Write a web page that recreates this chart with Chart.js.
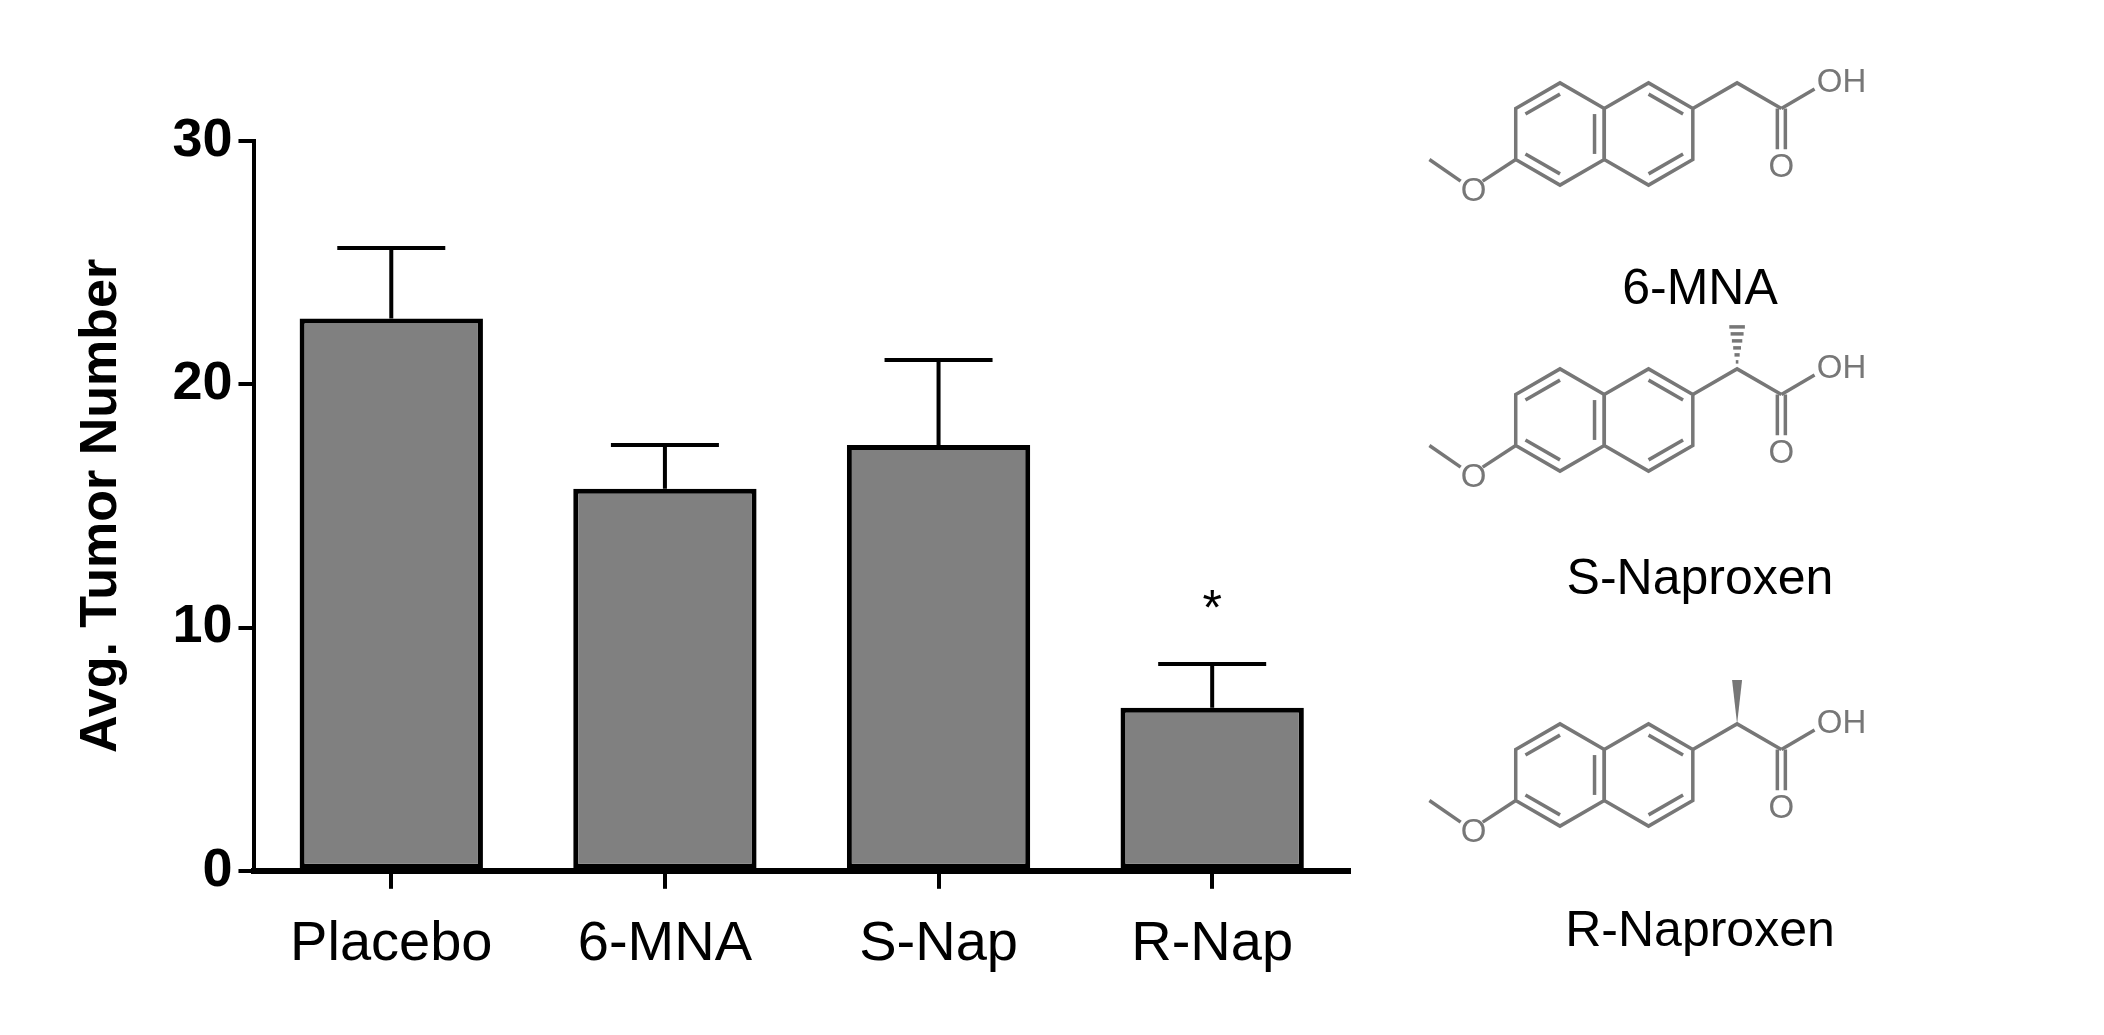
<!DOCTYPE html>
<html>
<head>
<meta charset="utf-8">
<script src="https://cdn.jsdelivr.net/npm/chart.js@4.4.0/dist/chart.umd.min.js"></script>
<style>
  body { margin: 0; background: #fff; width: 2104px; height: 1035px; position: relative; overflow: hidden; }
  #chartBox { position: absolute; left: 0; top: 0; width: 1420px; height: 1035px; }
  #mol { position: absolute; left: 1400px; top: 0; }
  .lbl { position: absolute; font-family: "Liberation Sans", Arial, sans-serif; font-size: 50px; color: #000; width: 500px; text-align: center; left: 1450px; }
</style>
</head>
<body>
<div id="chartBox"><canvas id="c"></canvas></div>
<canvas id="mol" width="704" height="1035"></canvas>
<div class="lbl" style="top:258px">6-MNA</div>
<div class="lbl" style="top:548px">S-Naproxen</div>
<div class="lbl" style="top:900px">R-Naproxen</div>
<script>
const categories = ['Placebo', '6-MNA', 'S-Nap', 'R-Nap'];
const means = [22.7, 15.7, 17.5, 6.7];
const errTops = [25.6, 17.5, 21.0, 8.5];
const sigMarks = ['', '', '', '*'];

// error bars (upper only) + significance star
const errorBars = {
  id: 'errorBars',
  afterDatasetsDraw(chart) {
    const { ctx, scales: { x, y } } = chart;
    const meta = chart.getDatasetMeta(0);
    ctx.save();
    ctx.strokeStyle = '#000';
    ctx.lineWidth = 4;
    meta.data.forEach((bar, i) => {
      const cx = x.getPixelForValue(i);
      const yTop = y.getPixelForValue(errTops[i]);
      const yMean = y.getPixelForValue(means[i]);
      ctx.beginPath();
      ctx.moveTo(cx, yMean);
      ctx.lineTo(cx, yTop);
      ctx.moveTo(cx - 54, yTop);
      ctx.lineTo(cx + 54, yTop);
      ctx.stroke();
      if (sigMarks[i]) {
        ctx.fillStyle = '#000';
        ctx.font = '50px "Liberation Sans", Arial';
        ctx.textAlign = 'center';
        ctx.textBaseline = 'bottom';
        ctx.fillText(sigMarks[i], cx, yTop - 28);
      }
    });
    ctx.restore();
  }
};

new Chart(document.getElementById('c'), {
  type: 'bar',
  data: {
    labels: categories,
    datasets: [{
      data: means,
      backgroundColor: '#808080',
      borderColor: '#000',
      borderWidth: 5,
      borderSkipped: false,
      categoryPercentage: 0.67,
      barPercentage: 1.0
    }]
  },
  options: {
    responsive: true,
    maintainAspectRatio: false,
    animation: false,
    layout: { padding: { top: 141, right: 71, bottom: 35, left: 66 } },
    plugins: { legend: { display: false }, tooltip: { enabled: false } },
    scales: {
      x: {
        grid: { display: true, drawOnChartArea: false, offset: false, color: '#000', lineWidth: 4, tickLength: 18 },
        border: { color: '#000', width: 6 },
        ticks: { color: '#000', padding: 22, font: { family: '"Liberation Sans", Arial', size: 56 } }
      },
      y: {
        min: 0, max: 30,
        grid: { display: true, drawOnChartArea: false, color: '#000', lineWidth: 4, tickLength: 16 },
        border: { color: '#000', width: 4 },
        ticks: { stepSize: 10, color: '#000', padding: 6, font: { family: '"Liberation Sans", Arial', size: 54, weight: 'bold' } },
        title: { display: true, text: 'Avg. Tumor Number', color: '#000', padding: { bottom: 34 }, font: { family: '"Liberation Sans", Arial', size: 52, weight: 'bold' } }
      }
    }
  },
  plugins: [errorBars]
});

// decorative molecular structures (drawn on separate canvas)
function molecule(ctx, ox, oy, stereo) {
  const s = 1.42;
  const r = 36 * s;
  const h = r * Math.sqrt(3) / 2;
  ctx.strokeStyle = '#777';
  ctx.lineWidth = 3.5;
  const ring = (cx, cy) => {
    const pts = [];
    for (let k = 0; k < 6; k++) {
      const a = Math.PI / 2 + k * Math.PI / 3;
      pts.push([cx + r * Math.cos(a), cy - r * Math.sin(a)]);
    }
    ctx.beginPath();
    pts.forEach((p, k) => k ? ctx.lineTo(p[0], p[1]) : ctx.moveTo(p[0], p[1]));
    ctx.closePath();
    ctx.stroke();
    return pts;
  };
  const L = ring(ox, oy);
  const R = ring(ox + 2 * h, oy);
  const inner = (cx, cy, a, b) => {
    const f = 0.78;
    ctx.beginPath();
    ctx.moveTo(cx + (a[0] - cx) * f, cy + (a[1] - cy) * f);
    ctx.lineTo(cx + (b[0] - cx) * f, cy + (b[1] - cy) * f);
    ctx.stroke();
  };
  inner(ox, oy, L[0], L[1]); inner(ox, oy, L[2], L[3]); inner(ox, oy, L[4], L[5]);
  inner(ox + 2 * h, oy, R[0], R[5]); inner(ox + 2 * h, oy, R[3], R[4]);
  // OMe at lower-left vertex
  const lv = L[2];
  const O = [lv[0] - h * 0.95, lv[1] + r * 0.5];
  ctx.beginPath(); ctx.moveTo(lv[0], lv[1]); ctx.lineTo(O[0] + 9, O[1] - 4); ctx.stroke();
  ctx.fillStyle = '#777';
  ctx.font = '33px "Liberation Sans", Arial';
  ctx.textAlign = 'center'; ctx.textBaseline = 'middle';
  ctx.fillText('O', O[0], O[1] + 7);
  ctx.beginPath(); ctx.moveTo(O[0] - 13, O[1] - 4); ctx.lineTo(O[0] - h, O[1] - r * 0.5); ctx.stroke();
  // side chain from upper-right vertex
  const rv = R[5];
  const C1 = [rv[0] + h, rv[1] - r * 0.5];
  const C2 = [C1[0] + h, C1[1] + r * 0.5];
  ctx.beginPath(); ctx.moveTo(rv[0], rv[1]); ctx.lineTo(C1[0], C1[1]); ctx.lineTo(C2[0], C2[1]); ctx.stroke();
  if (stereo === 'hash') {
    for (let k = 1; k <= 6; k++) {
      const yy = C1[1] - k * 7;
      const w = k * 1.3;
      ctx.beginPath(); ctx.moveTo(C1[0] - w, yy); ctx.lineTo(C1[0] + w, yy); ctx.stroke();
    }
  } else if (stereo === 'wedge') {
    ctx.beginPath(); ctx.moveTo(C1[0], C1[1]); ctx.lineTo(C1[0] - 5, C1[1] - 44); ctx.lineTo(C1[0] + 5, C1[1] - 44); ctx.closePath(); ctx.fill();
  }
  // OH
  ctx.beginPath(); ctx.moveTo(C2[0], C2[1]); ctx.lineTo(C2[0] + h * 0.75, C2[1] - r * 0.38); ctx.stroke();
  ctx.textAlign = 'left';
  ctx.fillText('OH', C2[0] + h * 0.8, C2[1] - r * 0.5);
  // C=O
  ctx.beginPath(); ctx.moveTo(C2[0] - 4, C2[1]); ctx.lineTo(C2[0] - 4, C2[1] + r * 0.8);
  ctx.moveTo(C2[0] + 4, C2[1]); ctx.lineTo(C2[0] + 4, C2[1] + r * 0.8); ctx.stroke();
  ctx.textAlign = 'center';
  ctx.fillText('O', C2[0], C2[1] + r * 0.8 + 19);
}
const mctx = document.getElementById('mol').getContext('2d');
molecule(mctx, 160, 134, null);
molecule(mctx, 160, 420, 'hash');
molecule(mctx, 160, 775, 'wedge');
</script>
</body>
</html>
